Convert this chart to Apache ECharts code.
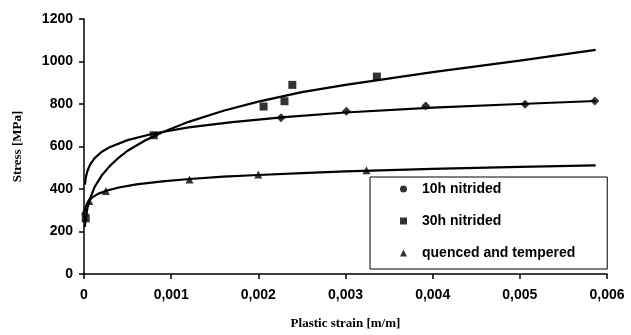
<!DOCTYPE html>
<html>
<head>
<meta charset="utf-8">
<script src="https://cdn.jsdelivr.net/npm/echarts@6/dist/echarts.min.js"></script>
<style>
  html, body { margin: 0; padding: 0; background: #fff; }
  #chart { width: 631px; height: 335px; }
</style>
</head>
<body>
<div id="chart"></div>
<script>
// measured points
const nit10Strain = [0.00226, 0.00301, 0.00392, 0.00506, 0.00586]
const nit10Stress = [735, 766, 791, 799, 814]
const nit30Strain = [0.00002, 0.0008, 0.00206, 0.0023, 0.00239, 0.00336]
const nit30Stress = [262, 653, 788, 813, 890, 929]
const qtStrain = [0.00001, 0.00006, 0.00025, 0.00121, 0.002, 0.00324]
const qtStress = [298, 343, 391, 445, 468, 488]

// trend curves
const fit10Strain = [0.00001, 0.00002, 0.00004, 0.00007, 0.00012, 0.0002, 0.0003, 0.0005, 0.0008, 0.0012, 0.0017, 0.0023, 0.003, 0.004, 0.005, 0.00587]
const fit10Stress = [421, 453, 486, 515, 544, 574, 598, 630, 661, 690, 715, 738, 760, 783, 800, 814]
const fit30Strain = [0.00001, 0.00002, 0.00004, 0.00007, 0.00012, 0.0002, 0.0003, 0.0004, 0.0005, 0.0007, 0.0009, 0.0012, 0.0016, 0.002, 0.0025, 0.003, 0.004, 0.005, 0.00587]
const fit30Stress = [222, 263, 312, 355, 408, 462, 510, 548, 580, 628, 667, 716, 768, 811, 856, 890, 950, 1004, 1055]
const fitQtStrain = [0.00001, 0.00002, 0.00004, 0.00006, 0.0001, 0.00016, 0.00025, 0.0004, 0.0006, 0.0009, 0.00121, 0.0016, 0.002, 0.0025, 0.003, 0.004, 0.005, 0.00587]
const fitQtStress = [298, 316, 334, 346, 362, 377, 391, 407, 422, 436, 447, 458, 466, 475, 483, 495, 504, 511]

const names = ['10h nitrided', '30h nitrided', 'quenced and tempered']

const zip = (xs, ys) => xs.map((x, i) => [x, ys[i]])

const chart = echarts.init(document.getElementById('chart'))

const fitLine = (xs, ys) => ({
  type: 'line',
  data: zip(xs, ys),
  showSymbol: false,
  silent: true,
  lineStyle: { color: '#000', width: 2.2, join: 'round' },
  z: 1,
})

const marks = (name, xs, ys, symbol, size) => ({
  name,
  type: 'scatter',
  data: zip(xs, ys),
  symbol,
  symbolSize: size,
  itemStyle: { color: '#000' },
  z: 3,
})

chart.setOption({
  animation: false,
  grid: { left: 84, right: 24, top: 19, bottom: 57 },
  legend: {
    data: [
      { name: names[0], icon: 'circle', itemStyle: { color: '#000' } },
      { name: names[1], icon: 'rect', itemStyle: { color: '#000' } },
      { name: names[2], icon: 'triangle', itemStyle: { color: '#000' } },
    ],
    orient: 'vertical',
    left: 370,
    top: 177,
    width: 237,
    height: 94,
    padding: [5, 32, 9, 30],
    itemWidth: 7,
    itemHeight: 7,
    itemGap: 18,
    borderColor: '#000',
    borderWidth: 1,
    backgroundColor: '#fff',
    textStyle: { fontFamily: 'Liberation Sans', fontWeight: 'bold', fontSize: 14, color: '#000', padding: [0, 0, 0, 10] },
  },
  xAxis: {
    type: 'value',
    min: 0,
    max: 0.006,
    interval: 0.001,
    name: 'Plastic strain [m/m]',
    nameLocation: 'middle',
    nameGap: 43,
    nameTextStyle: { fontFamily: 'Liberation Serif', fontWeight: 'bold', fontSize: 13, color: '#000' },
    axisLine: { lineStyle: { color: '#000', width: 1.5 } },
    axisTick: { length: 5, lineStyle: { color: '#000', width: 1.5 } },
    splitLine: { show: false },
    axisLabel: {
      margin: 14,
      fontFamily: 'Liberation Sans',
      fontWeight: 'bold',
      fontSize: 14,
      color: '#000',
      formatter: (v) => (v === 0 ? '0' : v.toFixed(3).replace('.', ',')),
    },
  },
  yAxis: {
    type: 'value',
    min: 0,
    max: 1200,
    interval: 200,
    name: 'Stress [MPa]',
    nameLocation: 'middle',
    nameGap: 60,
    nameTextStyle: { fontFamily: 'Liberation Serif', fontWeight: 'bold', fontSize: 13, color: '#000' },
    axisLine: { show: true, lineStyle: { color: '#000', width: 1.5 } },
    axisTick: { show: true, length: 5, lineStyle: { color: '#000', width: 1.5 } },
    splitLine: { show: false },
    axisLabel: {
      margin: 11,
      fontFamily: 'Liberation Sans',
      fontWeight: 'bold',
      fontSize: 14,
      color: '#000',
      formatter: (v) => String(v),
    },
  },
  series: [
    fitLine(fit10Strain, fit10Stress),
    fitLine(fit30Strain, fit30Stress),
    fitLine(fitQtStrain, fitQtStress),
    marks(names[0], nit10Strain, nit10Stress, 'diamond', 9),
    marks(names[1], nit30Strain, nit30Stress, 'rect', 8),
    marks(names[2], qtStrain, qtStress, 'triangle', 8),
  ],
})
</script>
</body>
</html>
